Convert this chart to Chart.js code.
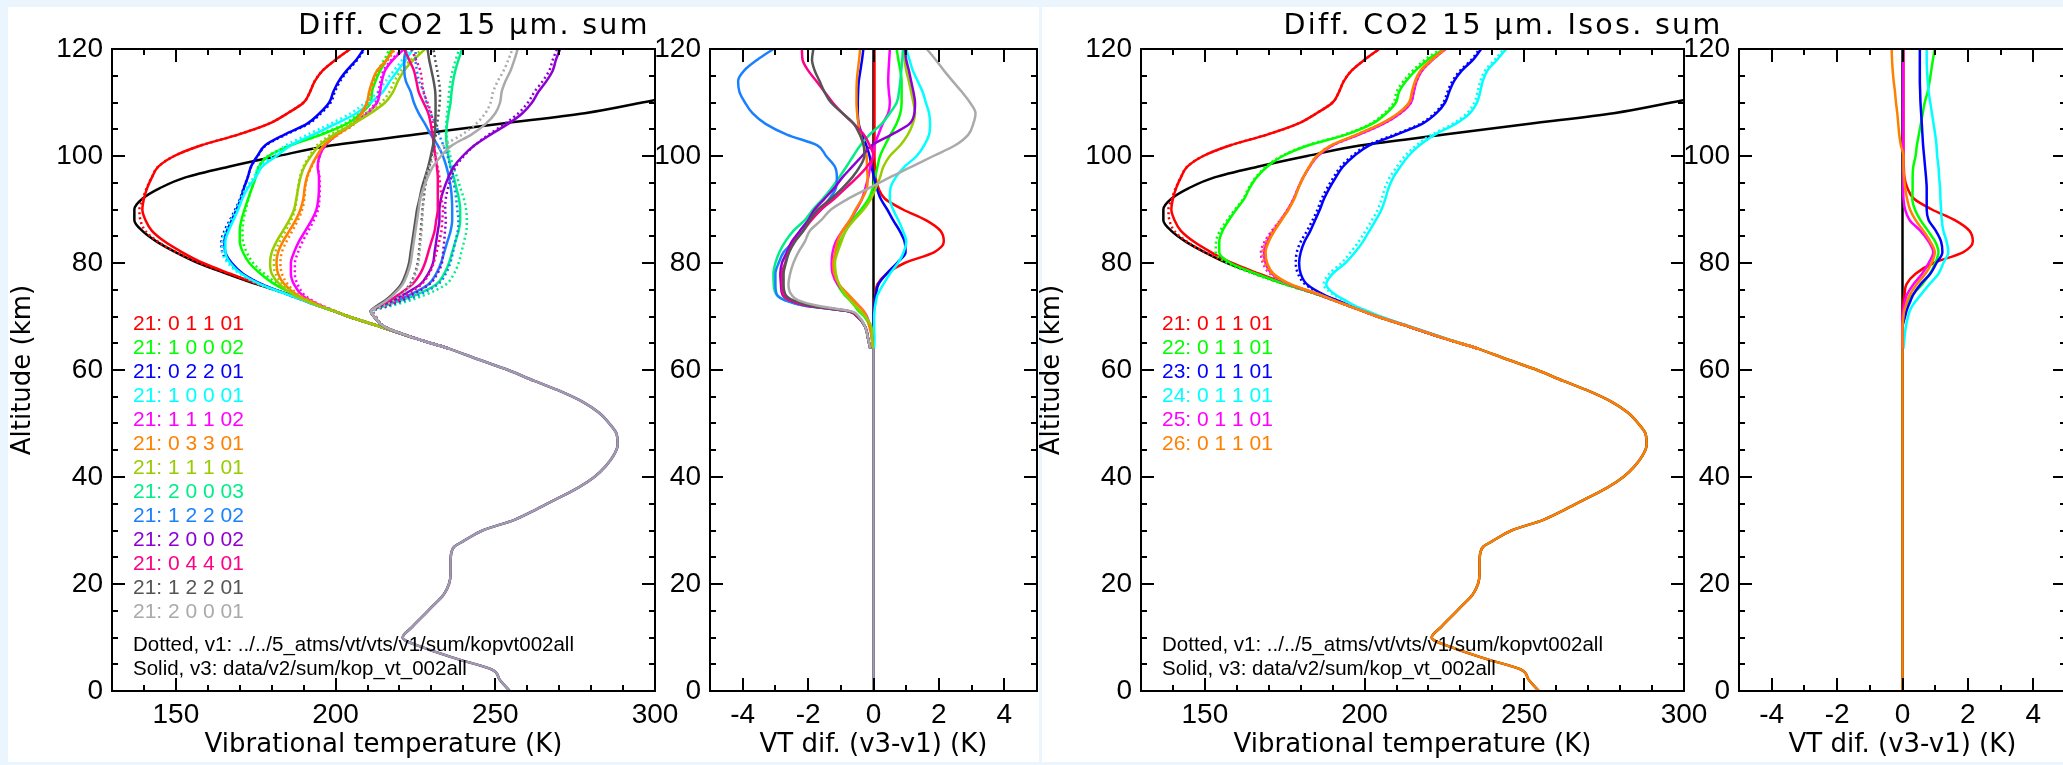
<!DOCTYPE html>
<html><head><meta charset="utf-8">
<script src="https://cdn.jsdelivr.net/npm/chart.js@4.4.1/dist/chart.umd.min.js"></script>
<style>
html,body{margin:0;padding:0;width:2063px;height:765px;overflow:hidden;background:#eaf5fe;}
.pane{position:absolute;background:#fff;}
canvas{position:absolute;}
.ttl{position:absolute;font-family:"DejaVu Sans",sans-serif;font-size:28.5px;letter-spacing:2.3px;line-height:30px;text-align:center;color:#000;white-space:pre;}
.leg{position:absolute;font-family:"Liberation Sans",Arial,sans-serif;font-size:21px;line-height:24px;white-space:pre;}
.note{position:absolute;font-family:"Liberation Sans",Arial,sans-serif;font-size:20.5px;line-height:24px;white-space:pre;color:#000;}
</style></head><body>
<div class="pane" style="left:8px;top:7px;width:1031px;height:755px"></div>
<div class="pane" style="left:1042px;top:7px;width:1021px;height:755px"></div>
<canvas id="c1" width="690" height="755" style="left:8px;top:7px"></canvas>
<canvas id="c2" width="400" height="755" style="left:640px;top:7px"></canvas>
<canvas id="c3" width="690" height="755" style="left:1037px;top:7px"></canvas>
<canvas id="c4" width="400" height="755" style="left:1669px;top:7px"></canvas>
<div class="ttl" style="left:174px;top:10px;width:600px">Diff. CO2 15 μm. sum</div>
<div class="ttl" style="left:1203px;top:10px;width:600px">Diff. CO2 15 μm. Isos. sum</div>
<div id="txt"></div>
<script>
// ---------- axes / tick labels ----------
const xTicksVT = [150, 200, 250, 300];
const xTicksDif = [-4, -2, 0, 2, 4];
const yTicks = [0, 20, 40, 60, 80, 100, 120];

// ---------- kinetic temperature ----------
const altT = [0,2,4,6,8,10,12,14,16,18,20,22,24,26,27,28,30,32,34,36,38,40,42,44,46,48,50,52,54,56,58,60,62,64,66,68,70,71,72,73,74,76,78,80,82,84,86,88,90,92,94,96,98,100,102,104,106,108,110,112];
const tKin = [254.5,251.5,249,238,228,221,224,227.3,230.6,233.8,235.5,236,236,236.3,237.2,240,246,256,263,269.5,276,281,284.5,287,288.3,288,285.7,282.5,277.5,270.5,262,254,244.5,235.5,224.5,214.5,204,199.5,195,190.5,186,175.5,166,157,150,144,139.5,137,137,139.5,145,153,166.5,182,199,225,251,278,296,312];

// ---------- vibrational temperatures (solid, v3) and differences v3-v1 ----------
const altV = [64,66,68,70,71,72,73,74,76,78,80,82,84,86,88,90,92,94,96,98,100,102,104,106,108,110,112,114,116,118,120];

const S_red = [235.5,224.5,214.5,204,199.5,195,190.5,186,176,167,158.5,152,146.5,142.5,140.5,139.5,140,141,142.5,144.5,149.5,158,169.5,179,185,190,192,193.5,196,200,204.6];
const D_red = [0,0,0,0,0,0.01,0.03,0.06,0.12,0.4,0.95,1.85,2.15,2.05,1.6,0.9,0.35,0.15,0.06,0.04,0.03,0.03,0.03,0.03,0.03,0.03,0.03,0.03,0.03,0.03,0.03];
const S_grn = [235.5,224.5,214.5,204,199.5,195,191,187.5,181,176.5,173,171,170,170,170.5,171.5,172.6,173.8,175,176,179,186,195.5,203.5,208,211,211.4,212.5,214,216,217.6];
const D_grn = [-0.02,-0.05,-0.1,-0.28,-0.45,-0.58,-0.72,-0.88,-1.1,-1.2,-1.22,-1.15,-1.02,-0.85,-0.65,-0.38,-0.15,-0.02,0.05,0.12,0.2,0.35,0.52,0.7,0.82,0.86,0.86,0.86,0.82,0.76,0.71];
const S_blu = [235.5,224.5,214.5,204,199.5,194.5,190,185.5,177,171,167.5,165.5,165.2,166,167.5,169,170.3,171.3,172.5,173.5,175.5,178,184,191,195,198,199.3,201,203.5,206.5,208.8];
const D_blu = [0,0,0,0,0.01,0.02,0.04,0.07,0.15,0.4,0.72,0.98,0.95,0.8,0.6,0.42,0.22,0.1,0.02,-0.06,-0.12,-0.22,-0.35,-0.45,-0.48,-0.48,-0.47,-0.45,-0.4,-0.35,-0.31];
const S_cyn = [235.5,224.5,214.5,204,199.5,194.5,190,185.5,176.5,170.5,167,165.5,165.5,166.5,168,169.5,170.8,172.5,175,177,181.5,186,193,200,206.5,211,214.8,217,219.5,222,224.2];
const D_cyn = [0.02,0.03,0.02,0.02,0.03,0.05,0.08,0.12,0.3,0.5,0.75,0.92,1.0,0.9,0.76,0.6,0.5,0.52,0.68,0.95,1.32,1.55,1.7,1.73,1.7,1.6,1.5,1.35,1.2,1.1,1.0];
const S_mag = [235.5,224.5,214.5,204,199.5,195.5,192,189.5,187,186,186,187,188.5,190.5,192.5,194,194.6,194.8,194.8,194.4,195,196.8,200.5,205.5,210,213,213.9,214.5,215.5,218,221.4];
const D_mag = [-0.02,-0.05,-0.1,-0.2,-0.3,-0.45,-0.62,-0.8,-1.1,-1.25,-1.28,-1.25,-1.15,-0.95,-0.72,-0.52,-0.35,-0.25,-0.16,-0.1,-0.02,0.03,0.15,0.28,0.45,0.5,0.47,0.45,0.46,0.48,0.5];
const S_org = [235.5,224.5,214.5,204,199.5,195,191.5,188,184,182,181.5,182,183.5,185.5,187.5,189,189.9,190.3,191,192.3,194.1,196.3,200.5,205.5,208,209.8,210.5,211.5,213,216,218.2];
const D_org = [-0.03,-0.05,-0.12,-0.22,-0.3,-0.45,-0.6,-0.75,-1.05,-1.2,-1.23,-1.17,-1.1,-0.95,-0.72,-0.55,-0.35,-0.2,-0.18,-0.2,-0.21,-0.3,-0.4,-0.46,-0.5,-0.52,-0.52,-0.51,-0.48,-0.44,-0.41];
const S_ygr = [235.5,224.5,214.5,204,199.5,194.5,190.5,187,182.5,180,179.5,180,181.5,183.5,185.5,187,187.7,188.3,189,190.2,192.3,195,199.5,205.5,211,215.5,218,219.5,221.5,224.5,228];
const D_ygr = [-0.02,-0.04,-0.06,-0.25,-0.4,-0.55,-0.7,-0.85,-1.05,-1.15,-1.18,-1.1,-0.98,-0.85,-0.6,-0.3,-0.08,0.07,0.2,0.3,0.5,0.82,1.05,1.2,1.27,1.22,1.15,1.08,1.0,0.95,0.91];
const S_spg = [235.5,224.5,215.5,212,211,215.5,220.5,225,231.5,234,235.5,236.5,237.5,238.5,239,239,238.6,237.8,237,236,235.3,234.8,234.6,234.9,235.4,236,236.3,236.8,237.5,238.5,239.6];
const D_spg = [-0.1,-0.17,-0.25,-0.5,-0.8,-2.1,-2.7,-2.95,-3.05,-3.06,-3.0,-2.88,-2.7,-2.45,-2.1,-1.85,-1.55,-1.28,-1.05,-0.83,-0.62,-0.4,-0.12,0.25,0.5,0.71,0.78,0.82,0.85,0.88,0.9];
const S_azu = [235.5,224.5,215.5,212,211,214.5,219,223,229,231.5,233,234,235,236,236.5,236.5,236.4,236.1,235.5,234.7,233.6,232,229.8,228,226,224.5,223.5,222,221.5,221.5,222];
const D_azu = [-0.1,-0.17,-0.25,-0.5,-0.8,-2.1,-2.7,-2.95,-3.0,-3.0,-2.9,-2.75,-2.45,-2.25,-1.95,-1.6,-1.35,-1.15,-1.12,-1.18,-1.45,-1.72,-2.65,-3.3,-3.7,-3.93,-4.1,-4.14,-3.95,-3.55,-3.06];
const S_pur = [235.5,224.5,215.5,212,211,214,218,221,226.5,229,230.5,231,231.5,232,232.5,232.5,233,234,235.3,237,239.8,243.5,248.5,254,258.5,261.5,263.5,266,268,269,270.3];
const D_pur = [-0.1,-0.17,-0.25,-0.5,-0.8,-2.0,-2.55,-2.78,-2.83,-2.85,-2.8,-2.65,-2.5,-2.25,-2.0,-1.8,-1.5,-1.2,-0.95,-0.65,-0.35,-0.05,0.55,1.1,1.25,1.27,1.22,1.15,1.08,1.0,0.96];
const S_dpk = [235.5,224.5,215.5,212,211,213.5,217,219.5,224,226.5,228,229,230,231,231.5,232,232,232,232,231.7,231.2,230.8,230.3,229.8,229,227.5,226,225.3,224.5,223,221.5];
const D_dpk = [-0.1,-0.17,-0.25,-0.5,-0.8,-2.0,-2.55,-2.75,-2.8,-2.8,-2.7,-2.6,-2.42,-2.15,-1.9,-1.6,-1.2,-0.85,-0.5,-0.2,0.0,-0.12,-0.3,-0.6,-0.95,-1.25,-1.5,-1.75,-2.0,-2.17,-2.19];
const S_dgy = [235.5,224.5,215.5,212,211,213,215.5,217.5,220.5,222,223,223.5,224,224.5,225,225.5,226.3,227,228,229,229.8,230.5,231,231.2,231.3,231.3,231.2,230.7,230,229.3,228.8];
const D_dgy = [-0.1,-0.17,-0.25,-0.48,-0.75,-1.9,-2.45,-2.68,-2.75,-2.75,-2.68,-2.58,-2.4,-2.15,-1.95,-1.7,-1.3,-0.95,-0.65,-0.42,-0.28,-0.3,-0.42,-0.6,-0.95,-1.3,-1.5,-1.65,-1.8,-1.88,-1.84];
const S_lgy = [235.5,224.5,215.5,212,211,213.5,216,218,221,222.5,223.5,224,224.5,225,225.5,226,226.5,227.5,228.8,230.5,233,236.5,242.5,247,250,251.5,252,253.2,254.8,256,257];
const D_lgy = [-0.1,-0.17,-0.25,-0.45,-0.7,-1.7,-2.3,-2.5,-2.6,-2.55,-2.45,-2.3,-2.1,-1.95,-1.6,-1.3,-0.78,-0.14,0.5,1.17,1.83,2.5,2.9,3.05,3.12,2.95,2.7,2.42,2.15,1.9,1.63];

// isotopes 22..26, band 0 1 1 01
const S_i22 = [235.5,224.5,214.5,204,199.5,195,190.5,186,175.5,166,158,154.5,154.5,155.5,157.5,159.8,162.3,164,166.2,169.5,174.4,182.5,194.2,202.3,206.8,209.8,210.8,213,216,219.8,224.8];
const D_i22 = [0,0,0,0.06,0.09,0.14,0.2,0.3,0.6,0.84,1.0,1.1,1.0,0.78,0.55,0.38,0.3,0.31,0.31,0.33,0.4,0.44,0.5,0.56,0.62,0.68,0.77,0.83,0.88,0.93,0.99];
const S_i23 = [235.5,224.5,214.5,204.5,200,195.5,191.5,187.5,182,180,179.5,180,181.2,183,184.5,186,187.3,189,191,193.2,196.7,201.5,210,218,222.5,225.2,226.5,228,230.5,234,236.5];
const D_i23 = [0,0,0,0.08,0.12,0.18,0.25,0.32,0.55,0.85,1.04,1.22,1.18,1.02,0.8,0.74,0.74,0.74,0.72,0.69,0.66,0.63,0.61,0.59,0.57,0.55,0.54,0.53,0.53,0.53,0.53];
const S_i24 = [235.5,225,215,205,201,197,194,191,188,190,194,197,199.5,201.5,203.5,205.3,206.5,207.5,209,211.2,213.7,217.2,222,228.5,233,235.2,236.2,237,238.5,241.5,244.3];
const D_i24 = [0.03,0.06,0.1,0.17,0.22,0.3,0.42,0.55,0.82,1.1,1.25,1.4,1.35,1.25,1.2,1.18,1.16,1.15,1.12,1.1,1.06,1.04,1.0,0.95,0.9,0.85,0.8,0.77,0.75,0.74,0.74];
const S_i25 = [235.5,224.5,214.5,204,199.5,195,190.5,186.3,176.7,171,169,168.5,169.5,171.5,173.8,176,177.8,179.2,180.8,182.8,185.3,190,198.2,205.8,211.2,214.5,215.4,216.3,218,221.3,225.3];
const D_i25 = [0,0,0,0,0.02,0.05,0.08,0.13,0.33,0.6,0.8,0.94,0.8,0.55,0.22,0.08,0.03,0.02,0.02,0.02,0.02,0.02,0.02,0.02,0.02,0.02,0.02,0.02,0.02,0.02,0.02];
const S_i26 = [235.5,224.5,214.5,204,199.5,195,190.5,186.5,177,171.5,169.5,169,170,171.8,174,176.2,178,179.3,180.8,182.7,185,189.5,197.5,205,210.5,213.9,214.8,215.8,217.5,221,225.1];
const D_i26 = [0,0,0,0.03,0.05,0.1,0.15,0.22,0.43,0.7,0.89,0.99,0.85,0.64,0.4,0.23,0.14,0.08,0.05,0.03,0.03,-0.05,-0.1,-0.13,-0.16,-0.2,-0.23,-0.27,-0.3,-0.32,-0.33];

// ---------- labels & colours ----------
const labels1 = ['21: 0 1 1 01','21: 1 0 0 02','21: 0 2 2 01','21: 1 0 0 01','21: 1 1 1 02','21: 0 3 3 01','21: 1 1 1 01','21: 2 0 0 03','21: 1 2 2 02','21: 2 0 0 02','21: 0 4 4 01','21: 1 2 2 01','21: 2 0 0 01'];
const colors1 = ['#ff0000','#00ff00','#0000ff','#00ffff','#ff00ff','#ff8000','#99cc00','#00ee88','#1a80ff','#8c00d4','#ff0088','#555555','#aaaaaa'];
const solids1 = [S_red,S_grn,S_blu,S_cyn,S_mag,S_org,S_ygr,S_spg,S_azu,S_pur,S_dpk,S_dgy,S_lgy];
const diffs1 = [D_red,D_grn,D_blu,D_cyn,D_mag,D_org,D_ygr,D_spg,D_azu,D_pur,D_dpk,D_dgy,D_lgy];

const labels3 = ['21: 0 1 1 01','22: 0 1 1 01','23: 0 1 1 01','24: 0 1 1 01','25: 0 1 1 01','26: 0 1 1 01'];
const colors3 = ['#ff0000','#00ff00','#0000ff','#00ffff','#ff00ff','#ff8000'];
const solids3 = [S_red,S_i22,S_i23,S_i24,S_i25,S_i26];
const diffs3 = [D_red,D_i22,D_i23,D_i24,D_i25,D_i26];

const noteDotted = 'Dotted, v1: ../../5_atms/vt/vts/v1/sum/kopvt002all';
const noteSolid = 'Solid, v3: data/v2/sum/kop_vt_002all';

// ---------- helpers ----------
const FT = '"Liberation Sans", Arial, sans-serif';
const FD = '"DejaVu Sans", sans-serif';
let ord = 0;
function line(xs, ys, color, extra) {
  return Object.assign({
    data: ys.map((y, i) => ({x: xs[i], y: y})),
    borderColor: color, borderWidth: 2.5, pointRadius: 0, fill: false,
    cubicInterpolationMode: 'monotone', borderJoinStyle: 'round', order: --ord
  }, extra || {});
}
const dotted = {borderDash: [2, 3], borderWidth: 2.5, borderCapStyle: 'butt'};

const frameTicks = {
  id: 'frameTicks',
  afterDatasetsDraw(chart, args, o) {
    const {ctx, chartArea: a, scales: {x, y}} = chart;
    ctx.save();
    ctx.strokeStyle = '#000'; ctx.lineWidth = 2;
    ctx.strokeRect(a.left, a.top, a.right - a.left, a.bottom - a.top);
    ctx.beginPath();
    const nx = Math.round((o.xMax - o.xMin) / o.xMinor);
    for (let k = 0; k <= nx; k++) {
      const v = o.xMin + k * o.xMinor;
      const r = v / o.xMajor, maj = Math.abs(r - Math.round(r)) < 1e-6;
      const L = maj ? 13 : 6, px = Math.round(x.getPixelForValue(v));
      ctx.moveTo(px, a.bottom); ctx.lineTo(px, a.bottom - L);
      ctx.moveTo(px, a.top); ctx.lineTo(px, a.top + L);
    }
    const ny = Math.round((o.yMax - o.yMin) / o.yMinor);
    for (let k = 0; k <= ny; k++) {
      const v = o.yMin + k * o.yMinor;
      const r = v / o.yMajor, maj = Math.abs(r - Math.round(r)) < 1e-6;
      const L = maj ? 13 : 6, py = Math.round(y.getPixelForValue(v));
      ctx.moveTo(a.left, py); ctx.lineTo(a.left + L, py);
      ctx.moveTo(a.right, py); ctx.lineTo(a.right - L, py);
    }
    ctx.stroke();
    ctx.restore();
  }
};

function makeChart(id, datasets, c) {
  return new Chart(document.getElementById(id), {
    type: 'line',
    data: {datasets},
    options: {
      responsive: false, animation: false, devicePixelRatio: 1, indexAxis: 'y',
      layout: {padding: {left: 0, top: 42, right: c.padRight, bottom: 0}, autoPadding: false},
      plugins: {legend: {display: false}, tooltip: {enabled: false}, frameTicks: c.ticks},
      scales: {
        x: {
          type: 'linear', position: 'bottom', min: c.xMin, max: c.xMax,
          grid: {display: false, drawTicks: false}, border: {display: false},
          ticks: {font: {family: FT, size: 28}, color: '#000', padding: 7, maxRotation: 0, autoSkip: false},
          title: {display: true, text: c.xTitle, font: {family: FD, size: 26}, color: '#000', padding: {top: 0, bottom: 1}},
          afterBuildTicks: s => { s.ticks = c.xTicks.map(v => ({value: v})); },
          afterFit: s => { s.height = 71; s.paddingLeft = 0; s.paddingRight = 0; }
        },
        y: {
          type: 'linear', position: 'left', min: 0, max: 120,
          grid: {display: false, drawTicks: false}, border: {display: false},
          ticks: {font: {family: FT, size: 28}, color: '#000', padding: 9, autoSkip: false},
          title: {display: !!c.yTitle, text: c.yTitle || '', font: {family: FD, size: 26}, color: '#000', padding: {top: 0, bottom: 0}},
          afterBuildTicks: s => { s.ticks = yTicks.map(v => ({value: v})); },
          afterFit: s => { s.width = c.yWidth; s.paddingTop = 0; s.paddingBottom = 0; }
        }
      }
    },
    plugins: [frameTicks]
  });
}

const tickVT = {xMin: 130, xMax: 300, xMinor: 10, xMajor: 50, yMin: 0, yMax: 120, yMinor: 5, yMajor: 20};
const tickDif = {xMin: -5, xMax: 5, xMinor: 1, xMajor: 2, yMin: 0, yMax: 120, yMinor: 5, yMajor: 20};

function vtDatasets(solids, diffs, colors, lowColor) {
  ord = 0;
  const ds = [line(tKin, altT, '#000000')];
  solids.forEach((s, i) => {
    const dot = s.map((v, j) => +(v - diffs[i][j]).toFixed(2));
    ds.push(line(dot, altV, colors[i], dotted));
    ds.push(line(s, altV, colors[i]));
  });
  const lowAlt = altT.filter(a => a <= 66);
  ds.push(line(tKin.slice(0, lowAlt.length), lowAlt, lowColor));
  return ds;
}
function difDatasets(diffs, colors, lowColor) {
  ord = 0;
  const ds = [line([0, 0], [yTicks[0], yTicks[yTicks.length - 1]], '#000000')];
  diffs.forEach((d, i) => ds.push(line(d, altV, colors[i])));
  ds.push(line([0, 0], [yTicks[0], altV[0]], lowColor));
  return ds;
}

makeChart('c1', vtDatasets(solids1, diffs1, colors1, '#a398b6'),
  {xMin: 130, xMax: 300, xTicks: xTicksVT, xTitle: 'Vibrational temperature (K)', yTitle: 'Altitude (km)', yWidth: 104, padRight: 43, ticks: tickVT});
makeChart('c2', difDatasets(diffs1, colors1, '#a398b6'),
  {xMin: -5, xMax: 5, xTicks: xTicksDif, xTitle: 'VT dif. (v3-v1) (K)', yWidth: 70, padRight: 3, ticks: tickDif});
makeChart('c3', vtDatasets(solids3, diffs3, colors3, '#ff8000'),
  {xMin: 130, xMax: 300, xTicks: xTicksVT, xTitle: 'Vibrational temperature (K)', yTitle: 'Altitude (km)', yWidth: 104, padRight: 43, ticks: tickVT});
makeChart('c4', difDatasets(diffs3, colors3, '#ff8000'),
  {xMin: -5, xMax: 5, xTicks: xTicksDif, xTitle: 'VT dif. (v3-v1) (K)', yWidth: 70, padRight: 3, ticks: tickDif});

// ---------- legend text ----------
const host = document.getElementById('txt');
function addText(cls, txt, left, top, color) {
  const d = document.createElement('div');
  d.className = cls; d.textContent = txt;
  d.style.left = left + 'px'; d.style.top = top + 'px';
  if (color) d.style.color = color;
  host.appendChild(d);
}
labels1.forEach((t, i) => addText('leg', t, 133, 311 + 24 * i, colors1[i]));
labels3.forEach((t, i) => addText('leg', t, 1162, 311 + 24 * i, colors3[i]));
[[133], [1162]].forEach(([x]) => {
  addText('note', noteDotted, x, 632);
  addText('note', noteSolid, x, 656);
});
</script>
</body></html>
